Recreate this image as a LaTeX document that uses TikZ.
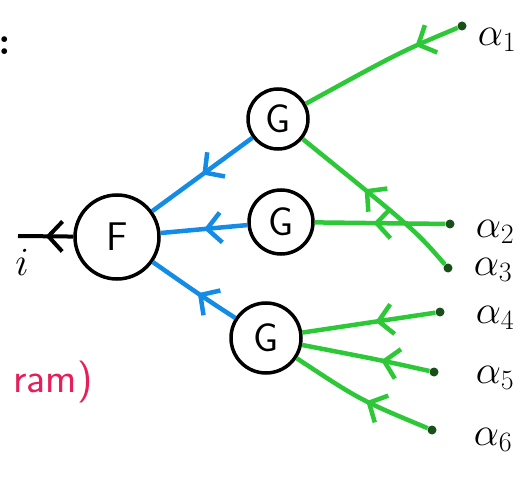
\documentclass[tikz,border=0pt]{standalone}
\usepackage{fix-cm}
\usepackage{fontspec}
\usetikzlibrary{arrows.meta,decorations.markings}
\definecolor{gr}{RGB}{45,200,55}
\definecolor{bl}{RGB}{20,140,230}
\definecolor{pk}{RGB}{230,30,90}
\definecolor{dotc}{RGB}{25,80,25}
\tikzset{
 vtx/.style={circle,draw=black,line width=3.5pt,inner sep=0pt,fill=white,font=\sffamily\fontsize{40}{44}\selectfont},
 leaf/.style={circle,fill=dotc,inner sep=0pt,minimum size=9pt},
 midarr/.style={decoration={markings,mark=at position #1 with {\arrow{Straight Barb[length=14pt,width=30pt]}}},postaction={decorate}},
 midarr/.default=0.5,
 gedge/.style={color=gr,line width=4.5pt},
 bedge/.style={color=bl,line width=4.5pt},
 kedge/.style={color=black,line width=4pt},
 lab/.style={font=\fontsize{40}{44}\selectfont}
}
\begin{document}
\begin{tikzpicture}[x=1pt,y=-1pt]
\useasboundingbox (0,0) rectangle (527,478);
% vertices
\node[vtx,minimum size=84pt] (F) at (117,237) {F};
\node[vtx,minimum size=60pt] (G1) at (278,119) {G};
\node[vtx,minimum size=64pt] (G2) at (281,222) {G};
\node[vtx,minimum size=70pt] (G3) at (266,338) {G};
% leaves
\node[leaf] (a1) at (462,26) {};
\node[leaf] (a2) at (450,224) {};
\node[leaf] (a3) at (448,268) {};
\node[leaf] (a4) at (440,312) {};
\node[leaf] (a5) at (434,372) {};
\node[leaf] (a6) at (432,430) {};
\coordinate (o) at (18,236);
% green edges
\draw[gedge,midarr=0.27] (a1) .. controls (400,52) .. (G1);
\draw[gedge,midarr=0.58] (a3) .. controls (415,230) .. (G1);
\draw[gedge,midarr=0.55] (a2) -- (G2);
\draw[gedge,midarr=0.45] (a4) -- (G3);
\draw[gedge,midarr=0.38] (a5) .. controls (380,360) .. (G3);
\draw[gedge,midarr=0.45] (a6) .. controls (360,400) .. (G3);
% blue edges
\draw[bedge,midarr=0.5] (G1) -- (F);
\draw[bedge,midarr=0.5] (G2) -- (F);
\draw[bedge,midarr=0.45] (G3) .. controls (200,295) .. (F);
% output
\draw[kedge,midarr=0.5] (F) -- (o);
% labels
\node[lab] (l1) at (497,40) {$\alpha_1$};
\node[lab] (l2) at (495,232) {$\alpha_2$};
\node[lab] (l3) at (493,270) {$\alpha_3$};
\node[lab] (l4) at (495,318) {$\alpha_4$};
\node[lab] (l5) at (495,378) {$\alpha_5$};
\node[lab] (l6) at (493,440) {$\alpha_6$};
\node[lab] (li) at (22,262) {$i$};
\node[lab,anchor=west,font=\bfseries\fontsize{40}{44}\selectfont] (colon) at (-5,46) {:};
\node[anchor=east,text=pk,font=\sffamily\fontsize{42}{46}\selectfont] (nm) at (96,382) {ram)};
\end{tikzpicture}
\end{document}
